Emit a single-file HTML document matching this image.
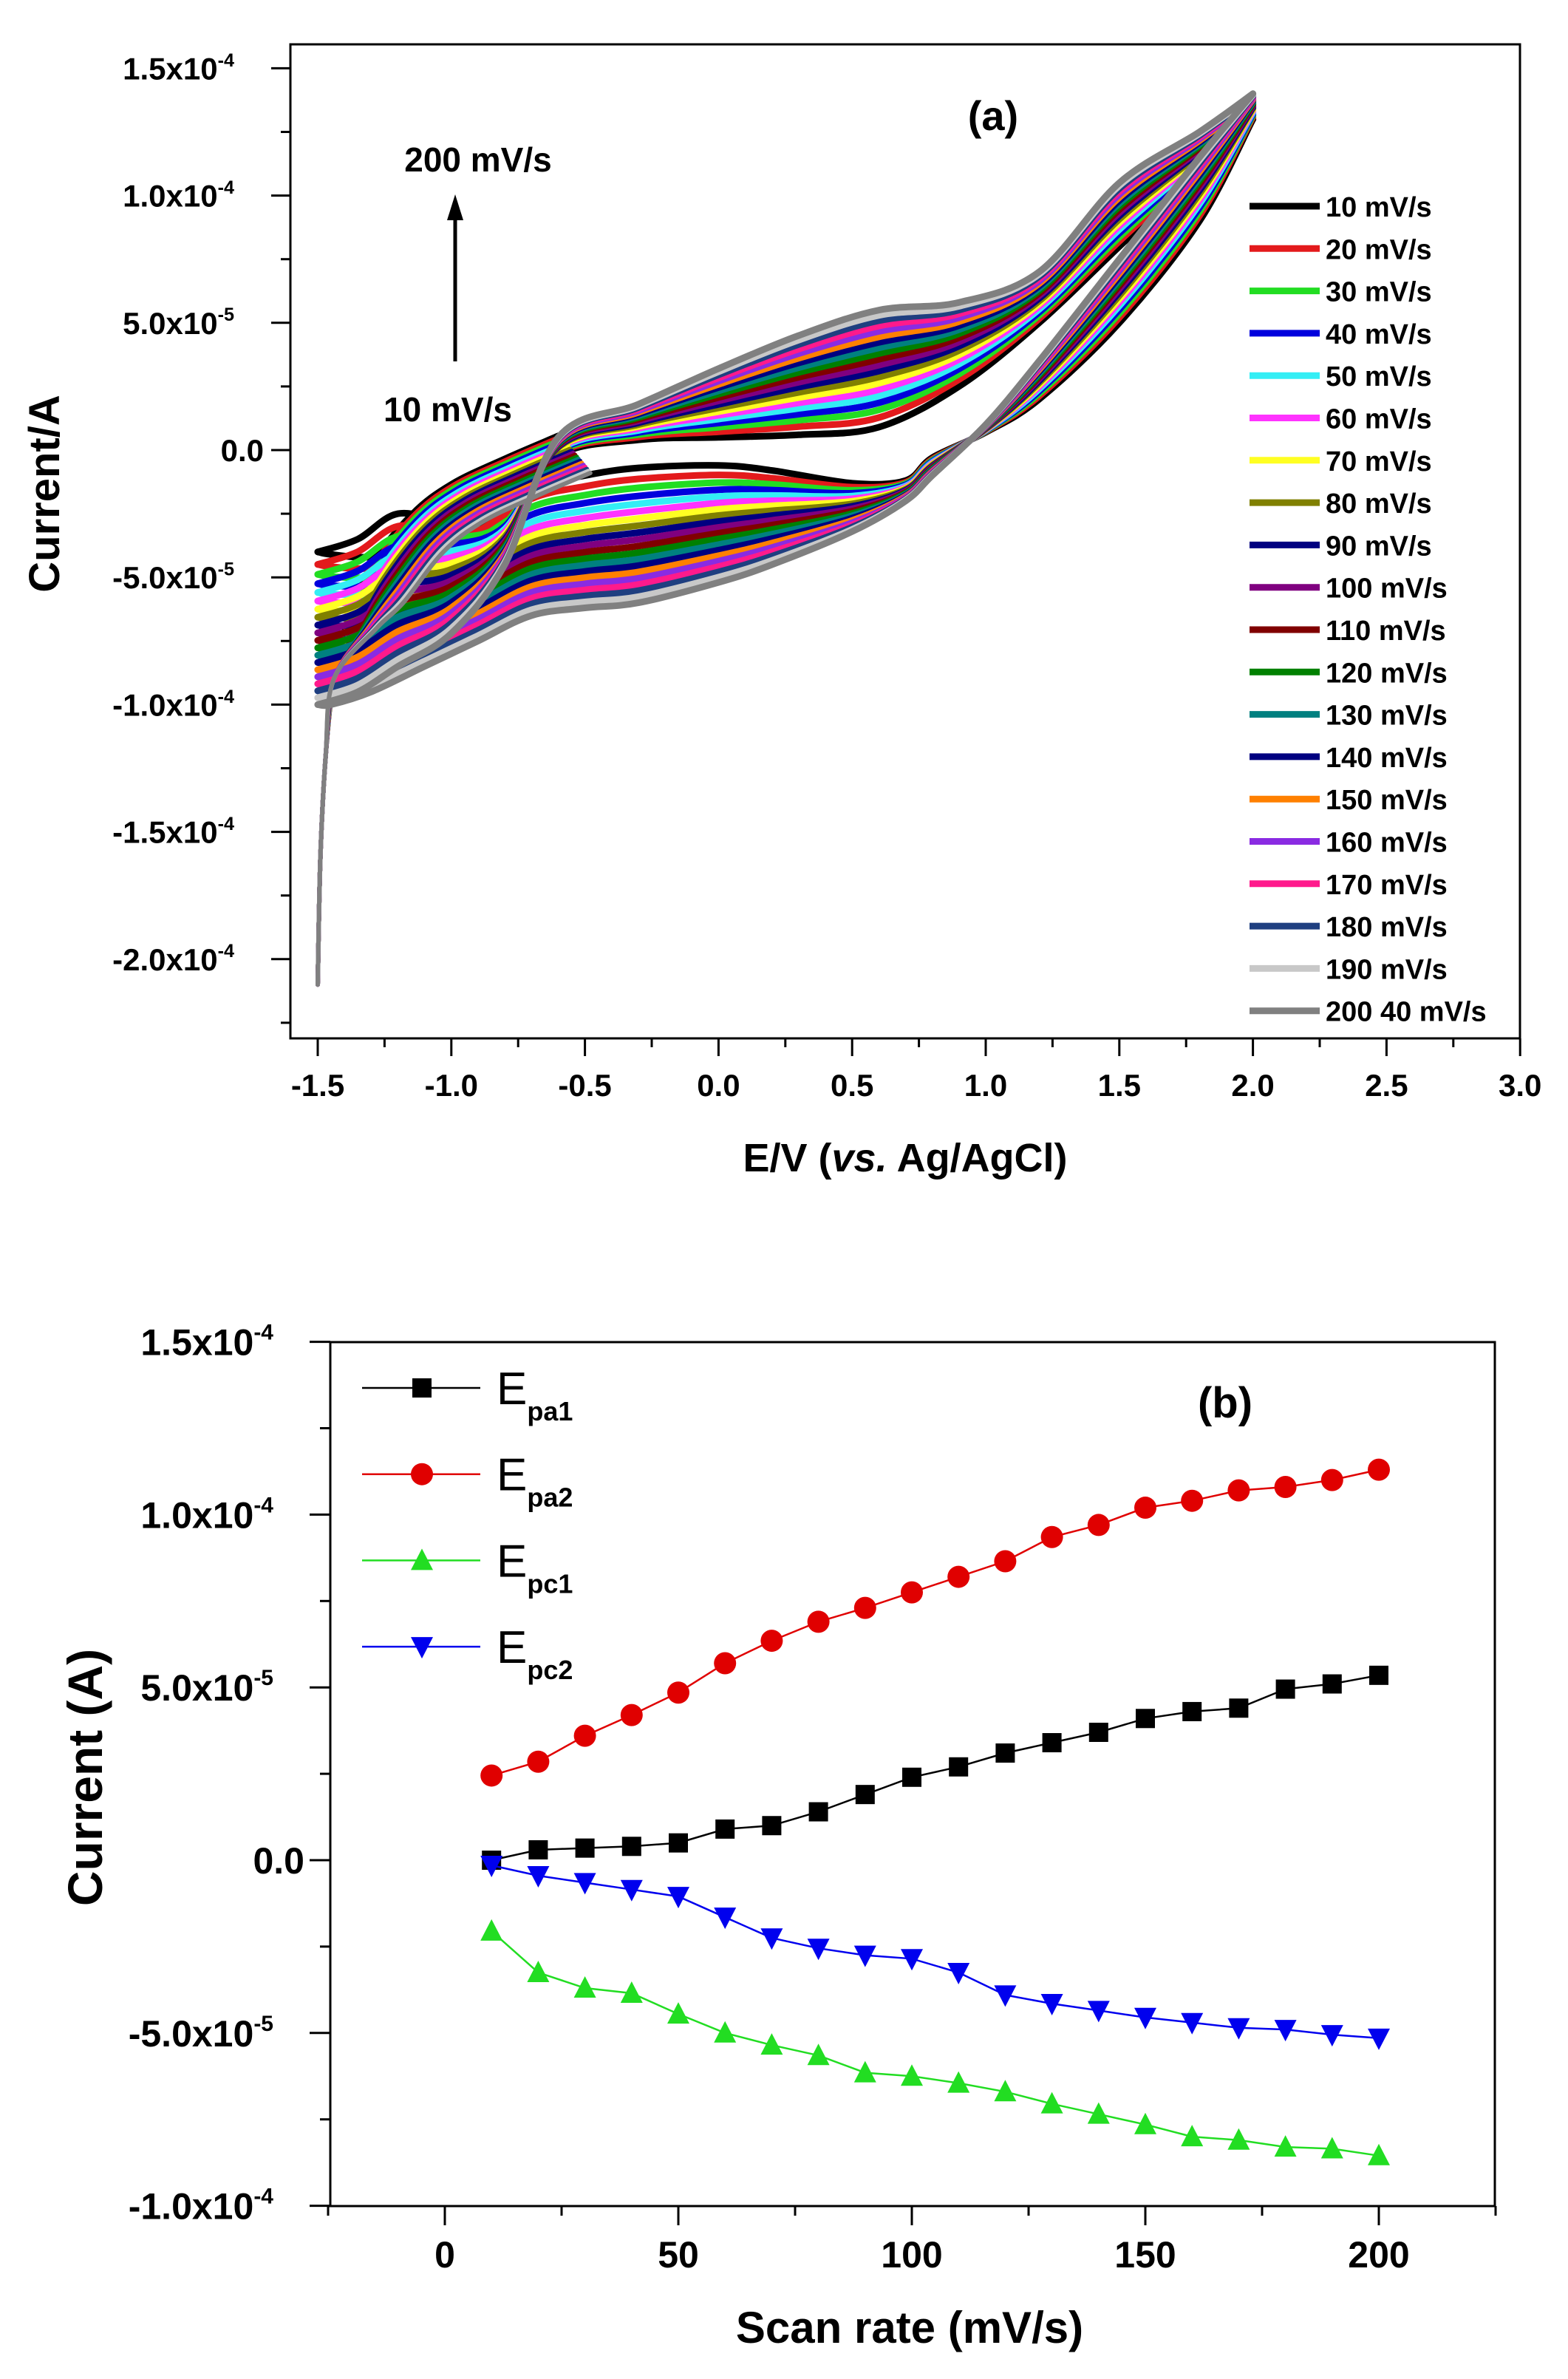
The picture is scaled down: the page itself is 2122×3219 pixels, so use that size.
<!DOCTYPE html>
<html><head><meta charset="utf-8"><style>
html,body{margin:0;padding:0;background:#fff;}
svg{display:block;font-family:"Liberation Sans",Arial,sans-serif;font-weight:bold;}
</style></head><body>
<svg id="s" xmlns="http://www.w3.org/2000/svg" width="2122" height="3219" viewBox="0 0 2122 3219">
<rect width="2122" height="3219" fill="#fff"/>
<g id="a"></g><g id="b"></g>
</svg>
<script>
const NS="http://www.w3.org/2000/svg";
function el(p,t,at,txt){const e=document.createElementNS(NS,t);for(const k in at)e.setAttribute(k,at[k]);if(txt!==undefined)e.textContent=txt;p.appendChild(e);return e;}
function smooth(pts){let d="M"+pts[0][0].toFixed(1)+","+pts[0][1].toFixed(1);
for(let i=0;i<pts.length-1;i++){const p0=pts[Math.max(i-1,0)],p1=pts[i],p2=pts[i+1],p3=pts[Math.min(i+2,pts.length-1)];
const c1=[p1[0]+(p2[0]-p0[0])/6,p1[1]+(p2[1]-p0[1])/6],c2=[p2[0]-(p3[0]-p1[0])/6,p2[1]-(p3[1]-p1[1])/6];
d+="C"+c1[0].toFixed(1)+","+c1[1].toFixed(1)+" "+c2[0].toFixed(1)+","+c2[1].toFixed(1)+" "+p2[0].toFixed(1)+","+p2[1].toFixed(1);}return d;}
function ylab(g,x,y,m,e,fs){const t=el(g,"text",{x:x,y:y,"text-anchor":"end","font-size":fs});
t.appendChild(document.createTextNode(m+"x10"));const s=el(t,"tspan",{"font-size":fs*0.6,dy:-fs*0.42},e);}
// ---------- Panel a ----------
const A=document.getElementById("a");
const ax=v=>430+(v+1.5)/0.5*180.8, ay=v=>609-v/5*172.2; // v in 1e-5
const L=393,R=2057,T=60,B=1405;
// curves
const cols=["#000000","#e31a1c","#22dd22","#0000dd","#33eef5","#ff33ff","#ffff22","#808000","#000080","#800080","#800000","#008000","#008080","#000080","#ff8000","#8a2be2","#ff1a8c","#1f3f80","#c8c8c8","#808080"];
const ux=[-1.5,-1.35,-1.2,-1.0,-0.8,-0.6,-0.3,0,0.3,0.6,0.9,1.2,1.5,1.8,2.0];
const u0=[-4,-3.5,-2.5,-2.8,-2.6,-0.2,0.4,0.5,0.6,0.9,2.5,5,8,11,13];
const u1=[-10,-9.5,-8.5,-7.2,-4.5,0.5,1.8,3.2,4.5,5.5,5.8,7,10.5,12.5,14];
const lx=[2.0,1.8,1.5,1.2,1.0,0.8,0.7,0.5,0.2,0,-0.3,-0.5,-0.7,-0.9,-1.1,-1.3,-1.45,-1.5];
const l0=[13,9,5,2,0.7,-0.3,-1.2,-1.3,-0.8,-0.6,-0.7,-1.0,-1.5,-2.8,-3.8,-4.2,-4.1,-4];
const l1=[14,11.5,7.5,3.5,1,-1,-2,-3.2,-4.5,-5.2,-6,-6.2,-6.5,-7.5,-8.5,-9.5,-10,-10];
const tx=[-1.5,-1.49,-1.47,-1.44,-1.4,-1.3,-1.15,-1.0,-0.8,-0.6];
const t0=[-21,-16,-12,-9,-7,-4.5,-2.5,-1.3,-0.3,0.6];
const cg=el(A,"g",{fill:"none","stroke-width":9,"stroke-linejoin":"round","stroke-linecap":"round"});
for(let k=0;k<20;k++){const s=Math.pow(k/19,0.85);
 const up=ux.map((x,i)=>[ax(x),ay(u0[i]+(u1[i]-u0[i])*s)]);
 const lo=lx.map((x,i)=>[ax(x),ay(l0[i]+(l1[i]-l0[i])*s)]);
 el(cg,"path",{d:smooth(up),stroke:cols[k]});
 el(cg,"path",{d:smooth(lo),stroke:cols[k]});
 const tp=tx.map((x,i)=>[ax(x+ (k/19)*0.12*(i>3?1:0)),ay(t0[i]+(k/19)*(i>4?-1.5:0))]);
 el(cg,"path",{d:smooth(tp),stroke:cols[k],"stroke-width":6});
}
// axes frame
el(A,"rect",{x:L,y:T,width:R-L,height:B-T,fill:"none",stroke:"#000","stroke-width":3});
// y ticks
const yv=[15,10,5,0,-5,-10,-15,-20], ym=["1.5","1.0","5.0","0.0","-5.0","-1.0","-1.5","-2.0"], ye=["-4","-4","-5","","-5","-4","-4","-4"];
for(let v=-22.5;v<=15;v+=2.5){const y=ay(v);const maj=Math.abs(v%5)<0.01;el(A,"line",{x1:L-(maj?26:13),y1:y,x2:L,y2:y,stroke:"#000","stroke-width":3});}
yv.forEach((v,i)=>{const y=ay(v)+15;if(ye[i]==="")el(A,"text",{x:357,y:y,"text-anchor":"end","font-size":42},ym[i]);else ylab(A,317,y,ym[i],ye[i],42);});
// x ticks
for(let v=-1.5;v<=3.001;v+=0.25){const x=ax(v);const maj=Math.abs((v*2)%1)<0.01;el(A,"line",{x1:x,y1:B,x2:x,y2:B+(maj?24:12),stroke:"#000","stroke-width":3});
 if(maj)el(A,"text",{x:x,y:1483,"text-anchor":"middle","font-size":42},v.toFixed(1));}
const xt=el(A,"text",{x:1225,y:1585,"text-anchor":"middle","font-size":54});
xt.appendChild(document.createTextNode("E/V ("));el(xt,"tspan",{"font-style":"italic"},"vs.");xt.appendChild(document.createTextNode(" Ag/AgCl)"));
el(A,"text",{x:0,y:0,"text-anchor":"middle","font-size":58,transform:"translate(80,668) rotate(-90)"},"Current/A");
el(A,"text",{x:1344,y:176,"text-anchor":"middle","font-size":56},"(a)");
el(A,"text",{x:647,y:232,"text-anchor":"middle","font-size":46},"200 mV/s");
el(A,"text",{x:606,y:570,"text-anchor":"middle","font-size":46},"10 mV/s");
el(A,"line",{x1:616,y1:489,x2:616,y2:290,stroke:"#000","stroke-width":5});
el(A,"polygon",{points:"616,263 605,298 627,298",fill:"#000"});
const labs=["10 mV/s","20 mV/s","30 mV/s","40 mV/s","50 mV/s","60 mV/s","70 mV/s","80 mV/s","90 mV/s","100 mV/s","110 mV/s","120 mV/s","130 mV/s","140 mV/s","150 mV/s","160 mV/s","170 mV/s","180 mV/s","190 mV/s","200 40 mV/s"];
labs.forEach((t,i)=>{const y=279+i*57.3;el(A,"line",{x1:1691,y1:y,x2:1786,y2:y,stroke:cols[i],"stroke-width":9});
 el(A,"text",{x:1794,y:y+14,"font-size":38},t);});
// ---------- Panel b ----------
const Bg=document.getElementById("b");
const bx=v=>602+v/50*316, by=v=>2517-v/5*233.8;
const L2=447,R2=2023,T2=1816,B2=2985;
const xs=[];for(let i=1;i<=20;i++)xs.push(i*10);
const S=[
 {c:"#000",m:"sq",d:[0,0.3,0.35,0.4,0.5,0.9,1.0,1.4,1.9,2.4,2.7,3.1,3.4,3.7,4.1,4.3,4.4,4.95,5.1,5.35],n:"pa1"},
 {c:"#e00000",m:"ci",d:[2.45,2.85,3.6,4.2,4.85,5.7,6.35,6.9,7.3,7.75,8.2,8.65,9.35,9.7,10.2,10.4,10.7,10.8,11.0,11.3],n:"pa2"},
 {c:"#22dd22",m:"tu",d:[-2.05,-3.25,-3.7,-3.85,-4.45,-5.0,-5.35,-5.65,-6.15,-6.25,-6.45,-6.7,-7.05,-7.35,-7.65,-8.0,-8.1,-8.3,-8.35,-8.55],n:"pc1"},
 {c:"#0000ee",m:"td",d:[-0.15,-0.45,-0.65,-0.85,-1.05,-1.65,-2.25,-2.55,-2.75,-2.85,-3.25,-3.9,-4.15,-4.35,-4.55,-4.7,-4.85,-4.9,-5.05,-5.15],n:"pc2"}];
const lc={"#000":"#000","#e00000":"#e00000","#22dd22":"#22dd22","#0000ee":"#0000ee"};
function mk(g,m,x,y,c){const r=13;
 if(m==="sq")el(g,"rect",{x:x-r,y:y-r,width:2*r,height:2*r,fill:c});
 else if(m==="ci")el(g,"circle",{cx:x,cy:y,r:r+2,fill:c});
 else if(m==="tu")el(g,"polygon",{points:`${x},${y-r-3} ${x-r-2},${y+r} ${x+r+2},${y+r}`,fill:c});
 else el(g,"polygon",{points:`${x},${y+r+3} ${x-r-2},${y-r} ${x+r+2},${y-r}`,fill:c});}
S.forEach(s=>{const p=xs.map((x,i)=>bx(x).toFixed(1)+","+by(s.d[i]).toFixed(1)).join(" ");
 el(Bg,"polyline",{points:p,fill:"none",stroke:s.c,"stroke-width":2.5});
 xs.forEach((x,i)=>mk(Bg,s.m,bx(x),by(s.d[i]),s.c));});
el(Bg,"rect",{x:L2,y:T2,width:R2-L2,height:B2-T2,fill:"none",stroke:"#000","stroke-width":3});
for(let v=-10;v<=15;v+=2.5){const y=by(v);const maj=Math.abs(v%5)<0.01;el(Bg,"line",{x1:L2-(maj?28:14),y1:y,x2:L2,y2:y,stroke:"#000","stroke-width":3});}
[[15,"1.5","-4"],[10,"1.0","-4"],[5,"5.0","-5"],[0,"0.0",""],[-5,"-5.0","-5"],[-10,"-1.0","-4"]].forEach(a=>{const y=by(a[0])+18;
 if(a[2]==="")el(Bg,"text",{x:412,y:y,"text-anchor":"end","font-size":50},a[1]);else ylab(Bg,370,y,a[1],a[2],50);});
for(let v=-25;v<=225;v+=25){const x=bx(v);const maj=v%50===0;el(Bg,"line",{x1:x,y1:B2,x2:x,y2:B2+(maj?26:13),stroke:"#000","stroke-width":3});
 if(maj&&v>=0&&v<=200)el(Bg,"text",{x:x,y:3068,"text-anchor":"middle","font-size":50},String(v));}
el(Bg,"text",{x:1231,y:3170,"text-anchor":"middle","font-size":60},"Scan rate (mV/s)");
el(Bg,"text",{x:0,y:0,"text-anchor":"middle","font-size":66,transform:"translate(138,2405) rotate(-90)"},"Current (A)");
el(Bg,"text",{x:1658,y:1918,"text-anchor":"middle","font-size":58},"(b)");
S.forEach((s,i)=>{const y=1878+i*116.7;el(Bg,"line",{x1:490,y1:y,x2:650,y2:y,stroke:s.c,"stroke-width":2.5});mk(Bg,s.m,571,y,s.c);
 const t=el(Bg,"text",{x:672,y:y+22,"font-size":62,"font-weight":"normal"},"E");el(t,"tspan",{"font-size":36,dy:22,"font-weight":"bold"},s.n);});
</script>
</body></html>
